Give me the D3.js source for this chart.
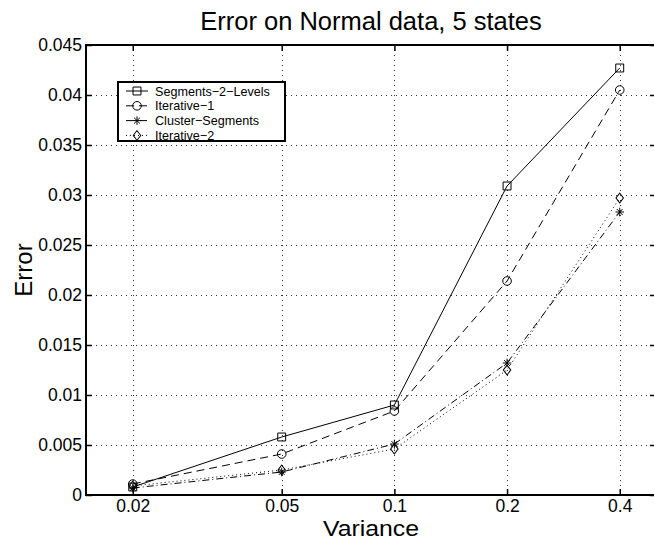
<!DOCTYPE html>
<html>
<head>
<meta charset="utf-8">
<script src="https://cdn.jsdelivr.net/npm/d3@7"></script>
<style>
  body { margin: 0; background: #fff; }
  svg { display: block; font-family: "Liberation Sans", Arial, Helvetica, sans-serif; }
</style>
</head>
<body>
<div id="chart"></div>
<script>
// data
var variances = [0.02, 0.05, 0.1, 0.2, 0.4];
var xTickLabels = ["0.02", "0.05", "0.1", "0.2", "0.4"];
var yTicks = [0, 0.005, 0.01, 0.015, 0.02, 0.025, 0.03, 0.035, 0.04, 0.045];
var yTickLabels = ["0", "0.005", "0.01", "0.015", "0.02", "0.025", "0.03", "0.035", "0.04", "0.045"];
var seriesNames = ["Segments\u22122\u2212Levels", "Iterative\u22121", "Cluster\u2212Segments", "Iterative\u22122"];
var segments2Levels = [0.0008, 0.0058, 0.0090, 0.0309, 0.0427];
var iterative1 = [0.0011, 0.0041, 0.0084, 0.0214, 0.0405];
var clusterSegments = [0.0007, 0.0023, 0.0051, 0.0132, 0.0283];
var iterative2 = [0.0009, 0.0025, 0.0046, 0.0125, 0.0297];

var W = 654, H = 540;
var pLeft = 86, pRight = 656, pTop = 45, pBottom = 495;

var svg = d3.select("#chart").append("svg")
    .attr("width", W)
    .attr("height", H);

var x = d3.scaleLog().domain([0.015, 0.5]).range([pLeft, pRight]);
var y = d3.scaleLinear().domain([0, 0.045]).range([pBottom, pTop]);

// grid
var grid = svg.append("g")
    .attr("stroke", "#333")
    .attr("stroke-width", 1)
    .attr("stroke-dasharray", "1,4");
grid.selectAll("line.gx")
  .data(variances)
  .enter().append("line")
    .attr("x1", function(d) { return Math.round(x(d)) + 0.5; })
    .attr("x2", function(d) { return Math.round(x(d)) + 0.5; })
    .attr("y1", pTop)
    .attr("y2", pBottom);
grid.selectAll("line.gy")
  .data(yTicks.slice(1, -1))
  .enter().append("line")
    .attr("x1", pLeft)
    .attr("x2", pRight)
    .attr("y1", function(d) { return Math.round(y(d)) + 0.5; })
    .attr("y2", function(d) { return Math.round(y(d)) + 0.5; });

// axes, inward ticks on all four sides
function styleAxis(g) {
  g.select(".domain").remove();
  g.selectAll(".tick line").attr("stroke", "#000").attr("stroke-width", 1.5);
  g.selectAll(".tick text")
    .attr("fill", "#000")
    .style("font-size", "17.5px");
}

svg.append("g")
    .attr("transform", "translate(0," + pBottom + ")")
    .call(d3.axisBottom(x).tickValues(variances)
      .tickFormat(function(d, i) { return xTickLabels[i]; })
      .tickSizeInner(-6).tickSizeOuter(0).tickPadding(5))
    .call(styleAxis);

svg.append("g")
    .attr("transform", "translate(0," + pTop + ")")
    .call(d3.axisTop(x).tickValues(variances).tickFormat("")
      .tickSizeInner(-6).tickSizeOuter(0))
    .call(styleAxis);

svg.append("g")
    .attr("transform", "translate(" + pLeft + ",0)")
    .call(d3.axisLeft(y).tickValues(yTicks)
      .tickFormat(function(d, i) { return yTickLabels[i]; })
      .tickSizeInner(-6).tickSizeOuter(0).tickPadding(4))
    .call(styleAxis);

svg.append("g")
    .attr("transform", "translate(" + pRight + ",0)")
    .call(d3.axisRight(y).tickValues(yTicks).tickFormat("")
      .tickSizeInner(-6).tickSizeOuter(0))
    .call(styleAxis);

// box
svg.append("rect")
    .attr("x", pLeft)
    .attr("y", pTop)
    .attr("width", pRight - pLeft)
    .attr("height", pBottom - pTop)
    .attr("fill", "none")
    .attr("stroke", "#000")
    .attr("stroke-width", 2);

// series
var markerPaths = {
  square: d3.symbol(d3.symbolSquare2, 80)(),
  circle: d3.symbol(d3.symbolCircle, 58)(),
  star: d3.symbol(d3.symbolPlus, 26)() + d3.symbol(d3.symbolTimes, 24)(),
  diamond: d3.symbol(d3.symbolDiamond2, 50)()
};

var series = [
  {name: seriesNames[0], values: segments2Levels, dash: null, marker: "square"},
  {name: seriesNames[1], values: iterative1, dash: "8,5", marker: "circle"},
  {name: seriesNames[2], values: clusterSegments, dash: "7,3,1,3", marker: "star"},
  {name: seriesNames[3], values: iterative2, dash: "1,3", marker: "diamond"}
];

var line = d3.line()
    .x(function(d, i) { return x(variances[i]); })
    .y(function(d) { return y(d); });

series.forEach(function(s) {
  svg.append("path")
      .datum(s.values)
      .attr("fill", "none")
      .attr("stroke", "#000")
      .attr("stroke-width", 1)
      .attr("stroke-dasharray", s.dash)
      .attr("d", line);
  svg.selectAll(null)
    .data(s.values)
    .enter().append("path")
      .attr("transform", function(d, i) {
        var t = "translate(" + x(variances[i]) + "," + y(d) + ")";
        return s.marker === "diamond" ? t + " scale(0.85,1.1)" : t;
      })
      .attr("d", markerPaths[s.marker])
      .attr("fill", "none")
      .attr("stroke", "#000")
      .attr("stroke-width", 1);
});

// legend
var legend = svg.append("g");
legend.append("rect")
    .attr("x", 118)
    .attr("y", 82)
    .attr("width", 167)
    .attr("height", 59)
    .attr("fill", "#fff")
    .attr("stroke", "#000")
    .attr("stroke-width", 2);

series.forEach(function(s, i) {
  var cy = 91 + i * 14.8;
  legend.append("line")
      .attr("x1", 126).attr("x2", 148)
      .attr("y1", cy).attr("y2", cy)
      .attr("stroke", "#000")
      .attr("stroke-width", 1)
      .attr("stroke-dasharray", s.dash);
  legend.append("path")
      .attr("transform", "translate(137," + cy + ")" + (s.marker === "diamond" ? " scale(0.85,1.1)" : ""))
      .attr("d", markerPaths[s.marker])
      .attr("fill", "none")
      .attr("stroke", "#000")
      .attr("stroke-width", 1);
  legend.append("text")
      .attr("x", 155)
      .attr("y", cy + 4.5)
      .style("font-size", "12.6px")
      .text(s.name);
});

// titles
svg.append("text")
    .attr("x", (pLeft + pRight) / 2)
    .attr("y", 30)
    .attr("text-anchor", "middle")
    .style("font-size", "25.5px")
    .text("Error on Normal data, 5 states");

svg.append("text")
    .attr("x", (pLeft + pRight) / 2)
    .attr("y", 536)
    .attr("text-anchor", "middle")
    .attr("textLength", 96)
    .attr("lengthAdjust", "spacingAndGlyphs")
    .style("font-size", "22px")
    .text("Variance");

svg.append("text")
    .attr("transform", "translate(32," + (pTop + pBottom) / 2 + ") rotate(-90)")
    .attr("text-anchor", "middle")
    .style("font-size", "24px")
    .text("Error");
</script>
</body>
</html>
